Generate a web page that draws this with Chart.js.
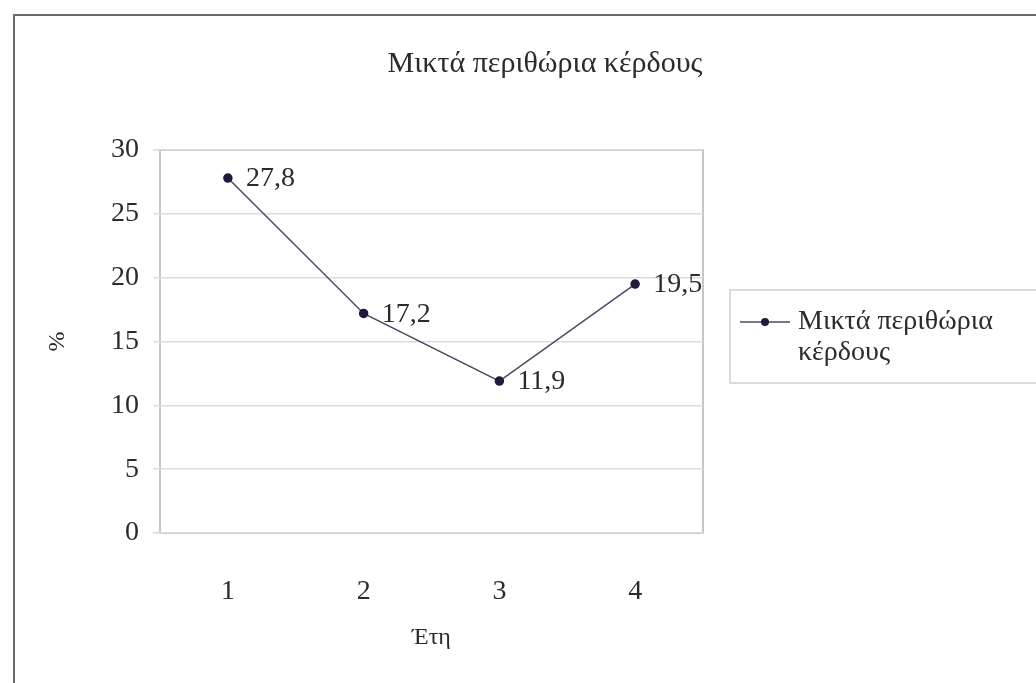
<!DOCTYPE html>
<html>
<head>
<meta charset="utf-8">
<script src="https://cdn.jsdelivr.net/npm/chart.js@4.4.0/dist/chart.umd.min.js"></script>
<style>
  html, body { margin: 0; padding: 0; background: #fff; }
  #wrap { width: 1036px; height: 683px; }
</style>
</head>
<body>
<div id="wrap"><canvas id="myChart" width="1036" height="683"></canvas></div>
<script>
// Data
const years = ['1', '2', '3', '4'];
const margins = [27.8, 17.2, 11.9, 19.5];
const seriesName = 'Μικτά περιθώρια κέρδους';
const legendLines = ['Μικτά περιθώρια', 'κέρδους'];
const yTicks = [0, 5, 10, 15, 20, 25, 30];

const serif = 'Liberation Serif, Times New Roman, serif';
const inkColor = '#2b2b2b';
const lineColor = '#4a4a66';
const pointColor = '#1c1c3c';

// outer frame of the chart object (only left and top edges show) + title
const framePlugin = {
  id: 'frame',
  beforeDraw(chart) {
    const c = chart.ctx;
    c.save();
    c.strokeStyle = '#6a6a6a';
    c.lineWidth = 2;
    c.strokeRect(14, 15, 1100, 800);
    // plot area border
    const a = chart.chartArea;
    c.strokeStyle = '#b4b4b4';
    c.lineWidth = 1.5;
    c.strokeRect(a.left, a.top, a.right - a.left, a.bottom - a.top);
    // chart title, centred on the whole object like Excel does
    c.font = '30px ' + serif;
    c.fillStyle = inkColor;
    c.textAlign = 'center';
    c.textBaseline = 'middle';
    c.fillText(seriesName, 545, 64);
    c.restore();
  }
};

// value labels to the right of each point, with comma decimals
const valueLabels = {
  id: 'valueLabels',
  afterDatasetsDraw(chart) {
    const c = chart.ctx;
    const meta = chart.getDatasetMeta(0);
    c.save();
    c.font = '28px ' + serif;
    c.fillStyle = inkColor;
    c.textBaseline = 'middle';
    c.textAlign = 'left';
    meta.data.forEach((pt, i) => {
      const txt = margins[i].toFixed(1).replace('.', ',');
      c.fillText(txt, pt.x + 18, pt.y + 1);
    });
    c.restore();
  }
};

// Excel style legend box on the right, text wrapped on two lines
const sideLegend = {
  id: 'sideLegend',
  afterDraw(chart) {
    const c = chart.ctx;
    const ds = chart.data.datasets[0];
    c.save();
    c.strokeStyle = '#d0d0d0';
    c.lineWidth = 1.5;
    c.strokeRect(730, 290, 400, 93);
    const y = 322;
    c.strokeStyle = ds.borderColor;
    c.lineWidth = 1.5;
    c.beginPath();
    c.moveTo(740, y);
    c.lineTo(790, y);
    c.stroke();
    c.fillStyle = ds.pointBackgroundColor;
    c.beginPath();
    c.arc(765, y, 4, 0, Math.PI * 2);
    c.fill();
    c.font = '28px ' + serif;
    c.fillStyle = inkColor;
    c.textBaseline = 'middle';
    legendLines.forEach((t, i) => c.fillText(t, 798, y + i * 31));
    c.restore();
  }
};

const ctx = document.getElementById('myChart').getContext('2d');
new Chart(ctx, {
  type: 'line',
  data: {
    labels: years,
    datasets: [{
      label: seriesName,
      data: margins,
      borderColor: lineColor,
      borderWidth: 1.5,
      tension: 0,
      pointRadius: 4,
      pointBackgroundColor: pointColor,
      pointBorderColor: pointColor,
      fill: false
    }]
  },
  options: {
    responsive: false,
    animation: false,
    layout: { padding: { left: 0, right: 333, top: 150, bottom: 0 } },
    plugins: {
      legend: { display: false },
      tooltip: { enabled: false },
      title: { display: false }
    },
    scales: {
      x: {
        offset: true,
        grid: { display: false },
        border: { display: false },
        ticks: { color: inkColor, padding: 34, font: { family: serif, size: 28 } },
        title: {
          display: true,
          text: 'Έτη',
          color: inkColor,
          font: { family: serif, size: 24 },
          padding: { top: 0, bottom: 31 }
        },
        afterFit(scale) { scale.height = 150; }
      },
      y: {
        min: 0,
        max: 30,
        afterBuildTicks(scale) { scale.ticks = yTicks.map(v => ({ value: v })); },
        grid: { color: '#dcdcdc', lineWidth: 1.5, tickLength: 7 },
        border: { display: false },
        ticks: { color: inkColor, padding: 14, font: { family: serif, size: 28 } },
        title: {
          display: true,
          text: '%',
          color: inkColor,
          font: { family: serif, size: 24 },
          padding: { top: 43, bottom: 0 }
        },
        afterFit(scale) { scale.width = 160; }
      }
    }
  },
  plugins: [framePlugin, valueLabels, sideLegend]
});
</script>
</body>
</html>
